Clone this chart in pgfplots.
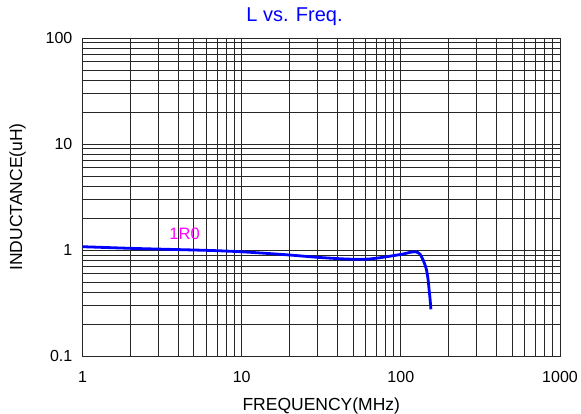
\documentclass[border=0pt]{standalone}
\usepackage{fontspec}
\setmainfont{Liberation Sans}
\usepackage{pgfplots}
\pgfplotsset{compat=1.18}
\definecolor{curveblue}{RGB}{0,0,255}
\definecolor{lblmag}{RGB}{255,0,255}
\begin{document}
\begin{tikzpicture}
\path[use as bounding box] (0,0) rectangle (581bp,414bp);
\begin{axis}[
  at={(82.5bp,58bp)}, anchor=south west,
  scale only axis, width=477.5bp, height=318bp,
  xmode=log, ymode=log,
  xmin=1, xmax=1000, ymin=0.1, ymax=100,
  xtick={1,10,100,1000}, xticklabels={1,10,100,1000},
  ytick={0.1,1,10,100}, yticklabels={0.1,1,10,100},
  minor x tick num=8, minor y tick num=8,
  grid=both,
  major grid style={black!85, line width=0.7bp},
  minor grid style={black!85, line width=0.7bp},
  axis line style={black!85, line width=0.7bp},
  major tick length=0pt, minor tick length=0pt,
  tick style={draw=none},
  /pgf/number format/assume math mode=true,
  tick label style={font=\fontsize{16bp}{19bp}\selectfont, inner sep=0pt},
  xticklabel style={anchor=base, yshift=-26.3bp},
  yticklabel style={anchor=east, xshift=-10bp},
  xlabel={FREQUENCY(MHz)},
  ylabel={INDUCTANCE(uH)},
  label style={font=\fontsize{17.5bp}{21bp}\selectfont},
  xlabel style={at={(axis description cs:0.5,-0.170)}, anchor=base, inner sep=0pt},
  ylabel style={at={(axis description cs:-0.136,0.5)}, anchor=center, inner sep=0pt},
  title={L vs. Freq.},
  title style={font=\fontsize{20bp}{24bp}\selectfont, text=curveblue, at={(axis description cs:0.444,1.0346)}, anchor=base, inner sep=0pt},
  clip=false,
]
\addplot[curveblue, line width=2.8bp, smooth, tension=0.4] coordinates {
(1,1.074) (2,1.037) (3,1.02) (5,1.0) (7,0.985) (10,0.962) (15,0.925)
(20,0.897) (30,0.853) (41,0.828) (52,0.817) (63,0.822) (74,0.846)
(89.5,0.884) (103.5,0.917) (114,0.95) (122,0.962) (128,0.945)
(132,0.915) (138,0.805) (142,0.72) (145,0.648) (148.5,0.52)
(150.6,0.419) (152.5,0.35) (154.5,0.276)
};
\node[text=lblmag, font=\fontsize{16.5bp}{20bp}\selectfont, anchor=base, inner sep=0pt] at (axis cs:4.38,1.262) {1R0};
\end{axis}
\end{tikzpicture}
\end{document}
